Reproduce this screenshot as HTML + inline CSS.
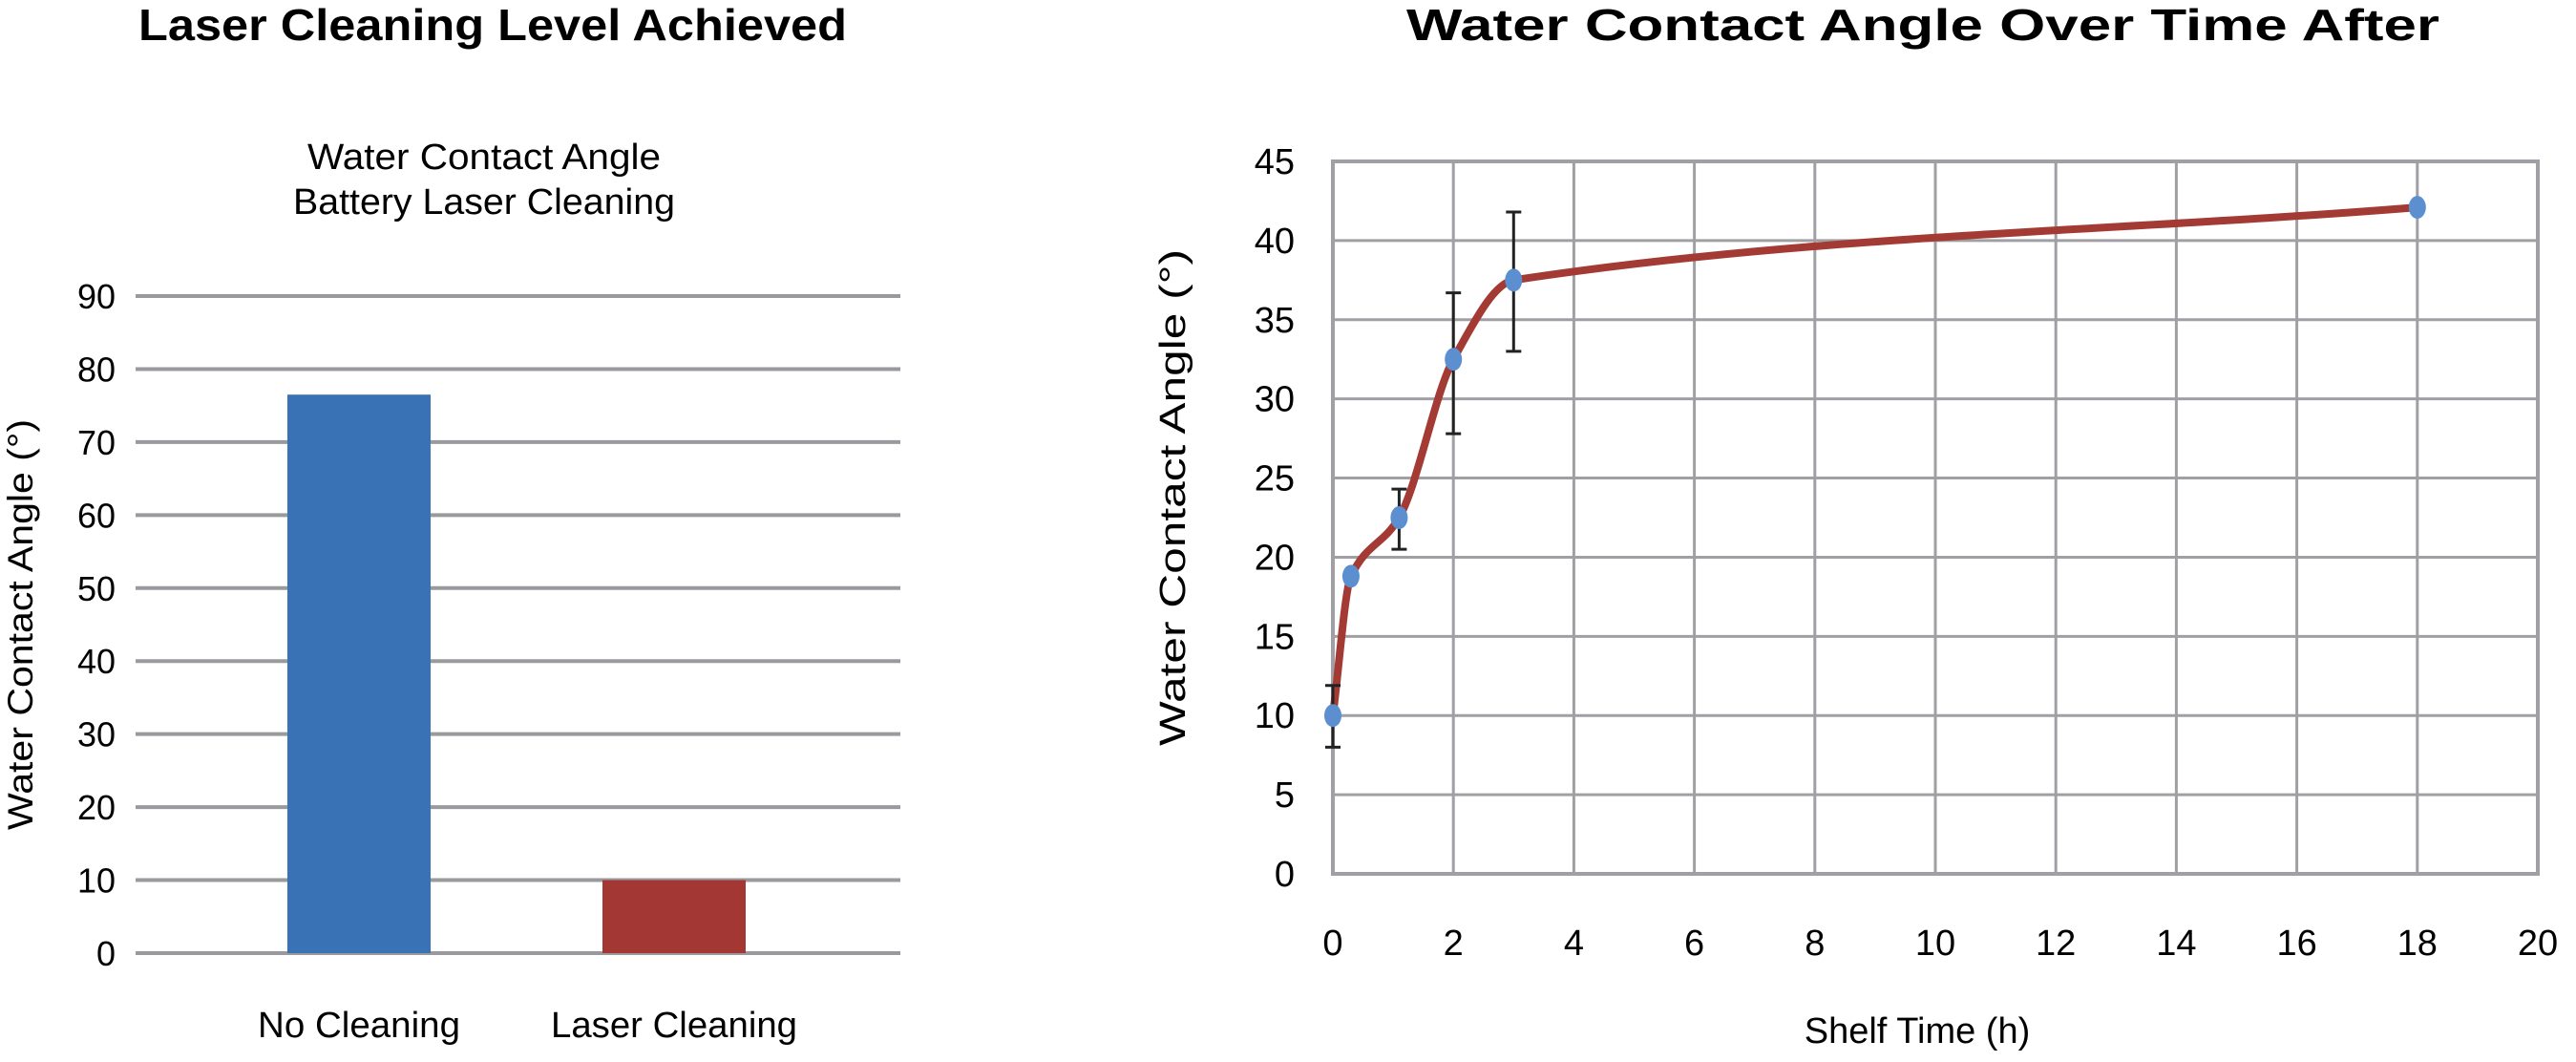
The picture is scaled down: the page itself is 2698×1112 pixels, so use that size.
<!DOCTYPE html>
<html><head><meta charset="utf-8"><style>
body{margin:0;background:#fff;}
svg{display:block;font-family:"Liberation Sans",sans-serif;}
</style></head><body>
<svg width="2698" height="1112" viewBox="0 0 2698 1112">
<g id="left"></g>
<g id="right"></g>
</svg>
<script>
const barCategories = ["No Cleaning", "Laser Cleaning"];
const barValues = [76.5, 10];
const barColors = ["#3a73b5", "#a33734"];
const barTicks = [0,10,20,30,40,50,60,70,80,90];

const lineX = [0, 0.3, 1.1, 2, 3, 18];
const lineY = [10, 18.8, 22.5, 32.5, 37.5, 42.1];
const errLow = [8, null, 20.5, 27.8, 33, null];
const errHigh = [11.9, null, 24.3, 36.7, 41.8, null];
const xTicks = [0,2,4,6,8,10,12,14,16,18,20];
const yTicks = [0,5,10,15,20,25,30,35,40,45];

const NS = "http://www.w3.org/2000/svg";
function mk(parent, tag, attrs, text){
  const e = document.createElementNS(NS, tag);
  for (const k in attrs) e.setAttribute(k, attrs[k]);
  if (text !== undefined) e.textContent = text;
  parent.appendChild(e);
  return e;
}

// ---------- left bar chart ----------
const L = document.getElementById('left');
const lx0 = 142, lx1 = 943, ly0 = 998, ly1 = 310;
const ly = v => ly0 - (v / 90) * (ly0 - ly1);
let t = mk(L,'text',{x:516,y:42,'text-anchor':'middle','font-size':46,'font-weight':'bold',textLength:742,lengthAdjust:'spacingAndGlyphs'},'Laser Cleaning Level Achieved');
 
t = mk(L,'text',{x:507,y:177,'text-anchor':'middle','font-size':38,textLength:370,lengthAdjust:'spacingAndGlyphs'},'Water Contact Angle');
 
t = mk(L,'text',{x:507,y:224,'text-anchor':'middle','font-size':38,textLength:400,lengthAdjust:'spacingAndGlyphs'},'Battery Laser Cleaning');
 
barTicks.forEach(v=>{
  const g = mk(L,'line',{x1:lx0,x2:lx1,y1:ly(v),y2:ly(v),stroke:'#9a9a9e','stroke-width':4});
   
  const tl = mk(L,'text',{x:121,y:ly(v)+13,'text-anchor':'end','font-size':36},String(v));
   
});
const bw = 150;
const barCenters = [376, 706];
barCategories.forEach((c,i)=>{
  const cx = barCenters[i];
  const r = mk(L,'rect',{x:cx-bw/2,y:ly(barValues[i]),width:bw,height:ly0-ly(barValues[i]),fill:barColors[i]});
   
  const tl = mk(L,'text',{x:cx,y:1086,'text-anchor':'middle','font-size':38,textLength:i===0?212:258,lengthAdjust:'spacingAndGlyphs'},c);
   
});
t = mk(L,'text',{x:0,y:0,'text-anchor':'middle','font-size':37,textLength:430,lengthAdjust:'spacingAndGlyphs',transform:'translate(34,654) rotate(-90)'},'Water Contact Angle (°)');
 

// ---------- right line chart ----------
const R = document.getElementById('right');
const px0 = 1396, px1 = 2658, py0 = 915, py1 = 169;
const sx = v => px0 + (v/20)*(px1-px0);
const sy = v => py0 - (v/45)*(py0-py1);
t = mk(R,'text',{x:2014,y:42,'text-anchor':'middle','font-size':46,'font-weight':'bold',textLength:1082,lengthAdjust:'spacingAndGlyphs'},'Water Contact Angle Over Time After');
 
xTicks.forEach(v=>{
  const g = mk(R,'line',{x1:sx(v),x2:sx(v),y1:py1,y2:py0,stroke:'#a0a0a4','stroke-width':3});
   
  const tl = mk(R,'text',{x:sx(v),y:1000,'text-anchor':'middle','font-size':38},String(v));
   
});
yTicks.forEach(v=>{
  const g = mk(R,'line',{x1:px0,x2:px1,y1:sy(v),y2:sy(v),stroke:'#a0a0a4','stroke-width':3});
   
  const tl = mk(R,'text',{x:1356,y:sy(v)+13,'text-anchor':'end','font-size':38},String(v));
   
});
let f = mk(R,'rect',{x:px0,y:py1,width:px1-px0,height:py0-py1,fill:'none',stroke:'#a0a0a4','stroke-width':4});
 
// monotone cubic (Fritsch-Carlson) in data space
const n = lineX.length;
const dk = [], m = [];
for(let i=0;i<n-1;i++) dk.push((lineY[i+1]-lineY[i])/(lineX[i+1]-lineX[i]));
m[0]=dk[0]; m[n-1]=dk[n-2];
for(let i=1;i<n-1;i++) m[i] = dk[i-1]*dk[i]<=0 ? 0 : 2/(1/dk[i-1]+1/dk[i]);
let d = 'M'+sx(lineX[0])+','+sy(lineY[0]);
for(let i=0;i<n-1;i++){
  const h = lineX[i+1]-lineX[i];
  d += ' C'+sx(lineX[i]+h/3)+','+sy(lineY[i]+m[i]*h/3)+' '+sx(lineX[i+1]-h/3)+','+sy(lineY[i+1]-m[i+1]*h/3)+' '+sx(lineX[i+1])+','+sy(lineY[i+1]);
}
const line = mk(R,'path',{d:d,fill:'none',stroke:'#a33a34','stroke-width':8,'stroke-linecap':'round'});
 
lineX.forEach((x,i)=>{
  if(errLow[i]!==null){
    const eb = mk(R,'path',{d:'M'+sx(x)+','+sy(errLow[i])+' V'+sy(errHigh[i])+' M'+(sx(x)-8)+','+sy(errLow[i])+' h16 M'+(sx(x)-8)+','+sy(errHigh[i])+' h16',stroke:'#222',fill:'none','stroke-width':3});
     
  }
});
lineX.forEach((x,i)=>{
  const mm = mk(R,'ellipse',{cx:sx(x),cy:sy(lineY[i]),rx:9,ry:12,fill:'#5b8fcf'});
   
});
t = mk(R,'text',{x:0,y:0,'text-anchor':'middle','font-size':38,textLength:520,lengthAdjust:'spacingAndGlyphs',transform:'translate(1241,521) rotate(-90)'},'Water Contact Angle (°)');
 
t = mk(R,'text',{x:2008,y:1092,'text-anchor':'middle','font-size':38},'Shelf Time (h)');
 
</script>
</body></html>
